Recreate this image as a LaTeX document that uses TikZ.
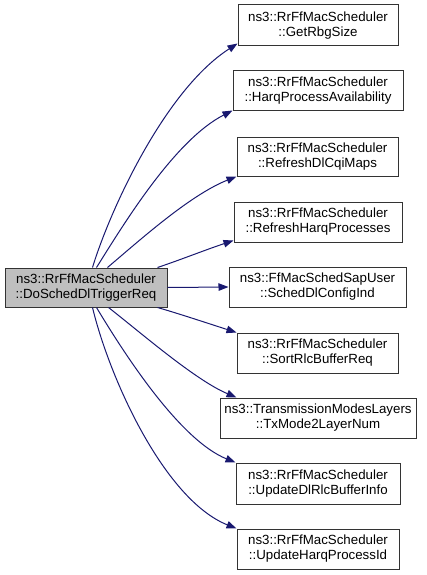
\documentclass[tikz,border=0pt]{standalone}
\usepackage{fontspec}
\setmainfont{Liberation Sans}
\usetikzlibrary{arrows.meta}
\definecolor{edgecol}{HTML}{191970}
\definecolor{srcfill}{HTML}{BFBFBF}
\definecolor{boxline}{HTML}{333333}
\tikzset{
  fn/.style={draw=boxline, line width=1pt, fill=white, inner sep=0pt, minimum height=40pt,
    align=center, font=\fontsize{13.3}{15}\selectfont},
  srcbox/.style={fn, fill=srcfill},
  edge/.style={draw=edgecol, line width=1pt, -{Triangle[length=10pt,width=7.5pt]}, edgecol}
}
\begin{document}
\begin{tikzpicture}[x=1pt,y=-1pt]
\useasboundingbox (0,0) rectangle (427,575);
\node[srcbox, minimum width=162pt, minimum height=39pt] (src) at (86,287.5) {ns3::RrFfMacScheduler\\::DoSchedDlTriggerReq};
\node[fn, minimum width=160pt, minimum height=41pt] (t1) at (318,25.5) {ns3::RrFfMacScheduler\\::GetRbgSize};
\node[fn, minimum width=170pt] (t2) at (318,91) {ns3::RrFfMacScheduler\\::HarqProcessAvailability};
\node[fn, minimum width=161pt, minimum height=39pt] (t3) at (317.5,156.5) {ns3::RrFfMacScheduler\\::RefreshDlCqiMaps};
\node[fn, minimum width=168pt] (t4) at (318,222) {ns3::RrFfMacScheduler\\::RefreshHarqProcesses};
\node[fn, minimum width=177pt] (t5) at (317.5,287) {ns3::FfMacSchedSapUser\\::SchedDlConfigInd};
\node[fn, minimum width=161pt] (t6) at (317.5,353) {ns3::RrFfMacScheduler\\::SortRlcBufferReq};
\node[fn, minimum width=196pt] (t7) at (318,418) {ns3::TransmissionModesLayers\\::TxMode2LayerNum};
\node[fn, minimum width=164pt, minimum height=41pt] (t8) at (318,483.5) {ns3::RrFfMacScheduler\\::UpdateDlRlcBufferInfo};
\node[fn, minimum width=162pt] (t9) at (318,549) {ns3::RrFfMacScheduler\\::UpdateHarqProcessId};

\draw[edge] ([xshift=88pt]src.north west) .. controls (110,210) and (165,90) .. ([yshift=3pt]t1.south west);
\draw[edge] ([xshift=92pt]src.north west) .. controls (125,222) and (175,140) .. ([yshift=1pt]t2.south west);
\draw[edge] ([xshift=103pt]src.north west) .. controls (140,240) and (190,195) .. (t3.south west);
\draw[edge] ([xshift=-10pt]src.north east) .. controls (180,260) and (205,250) .. ([yshift=2pt]t4.south west);
\draw[edge] (src.east) -- (t5.west);
\draw[edge] ([xshift=-10pt]src.south east) .. controls (180,314) and (210,324) .. (t6.north west);
\draw[edge] ([xshift=104pt]src.south west) .. controls (140,332) and (195,380) .. ([xshift=17pt]t7.north west);
\draw[edge] ([xshift=92pt]src.south west) .. controls (125,355) and (180,440) .. (t8.north west);
\draw[edge] ([xshift=88pt]src.south west) .. controls (110,380) and (165,500) .. (t9.north west);
\end{tikzpicture}
\end{document}
